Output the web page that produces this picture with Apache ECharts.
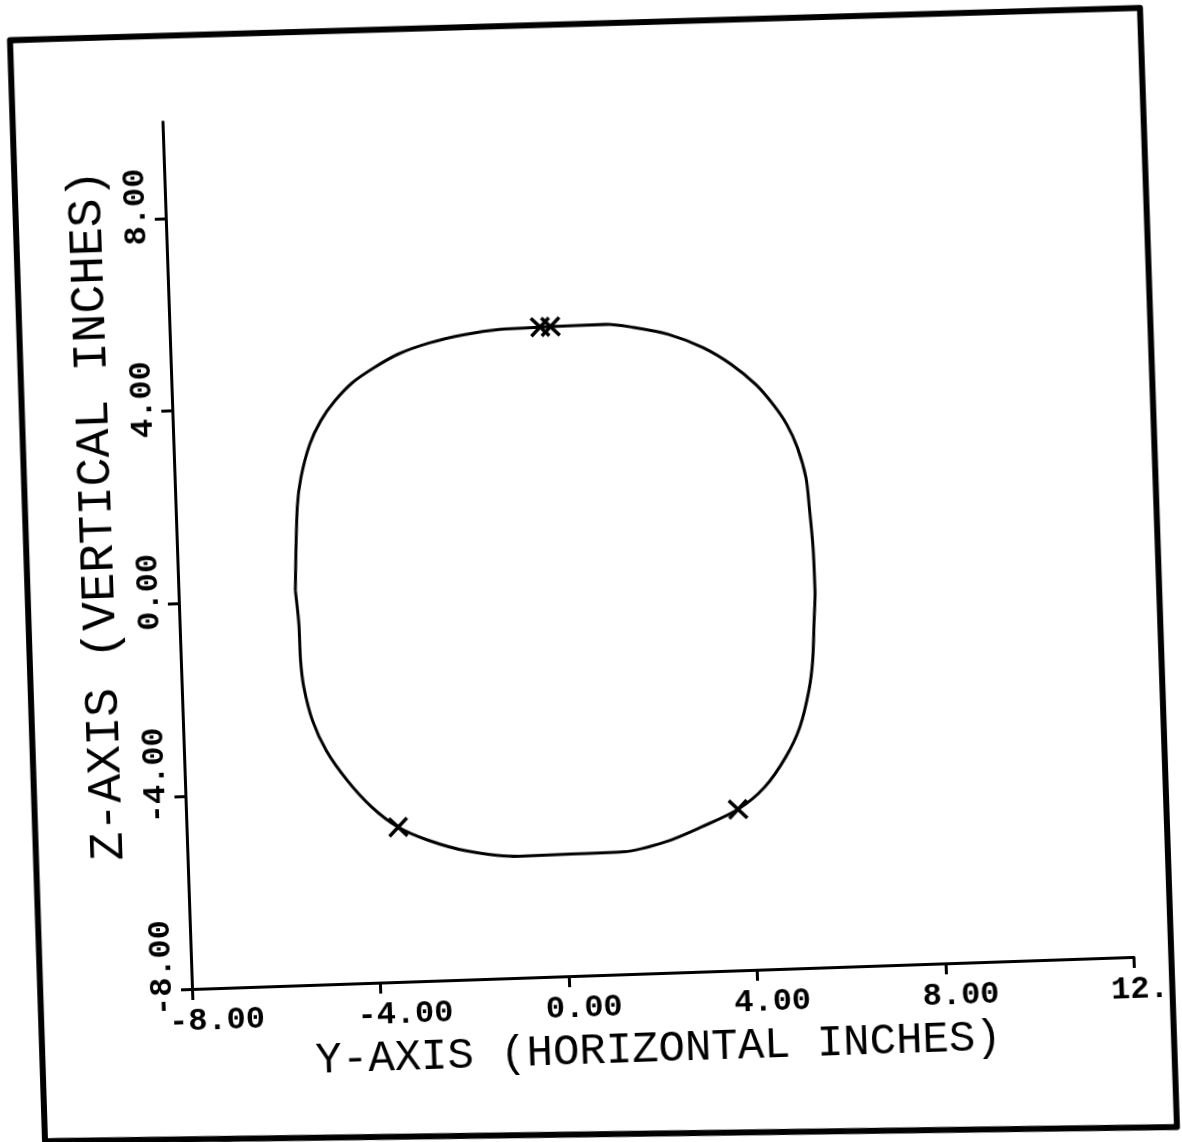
<!DOCTYPE html>
<html>
<head>
<meta charset="utf-8">
<script src="https://cdn.jsdelivr.net/npm/echarts/dist/echarts.min.js"></script>
<style>
html,body{margin:0;padding:0;background:#fff;overflow:hidden;width:1182px;height:1142px;}
#c{position:absolute;left:0;top:0;width:1300px;height:1300px;transform-origin:192px 989px;transform:rotate(-1.95deg);}
</style>
</head>
<body>
<div id="c"></div>
<script>
// Section outline: horizontal (Y-axis) and vertical (Z-axis) coordinates, inches
const curveY = [-5.52,-5.42,-5.32,-5.11,-4.86,-4.55,-4.16,-3.70,-3.17,-2.50,-1.74,-1.00,-0.03,1.24,1.83,2.57,3.30,3.89,4.39,4.74,5.02,5.23,5.39,5.44,5.49,5.50,5.46,5.40,5.30,5.08,4.76,4.29,3.71,2.92,2.16,1.26,0.15,-0.97,-2.08,-2.89,-3.51,-4.06,-4.56,-4.98,-5.25,-5.41,-5.46,-5.47,-5.52];
const curveZ = [0.19,1.91,2.53,3.21,3.69,4.09,4.46,4.75,5.02,5.23,5.38,5.46,5.48,5.49,5.41,5.24,4.94,4.57,4.14,3.72,3.29,2.80,2.17,1.55,0.72,-0.18,-0.80,-1.63,-2.24,-3.00,-3.61,-4.22,-4.66,-5.00,-5.28,-5.46,-5.47,-5.48,-5.33,-5.08,-4.79,-4.35,-3.78,-3.15,-2.52,-1.82,-1.27,-0.50,0.19];
// X markers
const markerY = [-0.14, 0.08, -3.51, 3.71];
const markerZ = [5.48, 5.48, -4.79, -4.66];
// ticks and labels
const xTicks = [-8, -4, 0, 4, 8, 12];
const xTickLabels = ['-8.00', '-4.00', '0.00', '4.00', '8.00', '12.'];
const yTicks = [-8, -4, 0, 4, 8];
const yTickLabels = ['-8.00', '-4.00', '0.00', '4.00', '8.00'];
const xTitle = 'Y-AXIS (HORIZONTAL INCHES)';
const yTitle = 'Z-AXIS (VERTICAL INCHES)';

const FONT = "'Liberation Mono', 'DejaVu Sans Mono', monospace";
const lineData = curveY.map((v, i) => [v, curveZ[i]]);
const markData = markerY.map((v, i) => [v, markerZ[i]]);

function lab(ticks, labels, v) {
  const i = ticks.findIndex(t => Math.abs(t - v) < 1e-9);
  return i >= 0 ? labels[i] : '';
}

const chart = echarts.init(document.getElementById('c'), null, {renderer: 'canvas'});
chart.setOption({
  backgroundColor: '#fff',
  animation: false,
  grid: {left: 192, top: 121.5, width: 942.5, height: 867.5, containLabel: false},
  xAxis: {
    type: 'value', min: -8, max: 12, interval: 4,
    splitLine: {show: false},
    axisLine: {show: true, onZero: false, lineStyle: {color: '#000', width: 3}},
    axisTick: {show: true, inside: false, length: 11, lineStyle: {color: '#000', width: 3}},
    axisLabel: {
      margin: 17, color: '#000', fontFamily: FONT, fontSize: 32, fontWeight: 'bold',
      formatter: v => '{a|' + lab(xTicks, xTickLabels, v) + '}',
      rich: {a: {width: 48, align: 'left', fontFamily: FONT, fontSize: 32, fontWeight: 'bold', color: '#000'}}
    },
    name: xTitle, nameLocation: 'middle', nameGap: 50,
    nameTextStyle: {color: '#000', fontFamily: FONT, fontSize: 44, padding: [0, 14, 0, 0]}
  },
  yAxis: {
    type: 'value', min: -8, max: 10,
    splitLine: {show: false},
    axisLine: {show: true, onZero: false, lineStyle: {color: '#000', width: 3}},
    axisTick: {show: true, inside: false, length: 11, customValues: yTicks, lineStyle: {color: '#000', width: 3}},
    axisLabel: {
      customValues: yTicks, rotate: 90, margin: 13, color: '#000', fontFamily: FONT, fontSize: 32, fontWeight: 'bold',
      formatter: v => '{a|' + lab(yTicks, yTickLabels, v) + '}',
      rich: {a: {width: 52, align: 'left', fontFamily: FONT, fontSize: 32, fontWeight: 'bold', color: '#000'}}
    },
    name: yTitle, nameLocation: 'middle', nameRotate: 90, nameGap: 54,
    nameTextStyle: {color: '#000', fontFamily: FONT, fontSize: 48, padding: [0, 0, 0, 86]}
  },
  graphic: [{
    type: 'polygon', silent: true, z: 100,
    shape: {points: [[42.4, 34.4], [1172.8, 40.8], [1171.7, 1160.4], [39.9, 1135.9]]},
    style: {fill: 'none', stroke: '#000', lineWidth: 6, lineJoin: 'round'}
  }],
  series: [{
    type: 'line', data: lineData, showSymbol: false, smooth: 0.3,
    lineStyle: {color: '#000', width: 3}, clip: false
  }, {
    type: 'scatter', data: markData, symbol: 'path://M0,0L10,10M10,0L0,10', symbolSize: 18,
    itemStyle: {color: 'rgba(0,0,0,0)', borderColor: '#000', borderWidth: 3.5, opacity: 1}
  }]
});
</script>
</body>
</html>
